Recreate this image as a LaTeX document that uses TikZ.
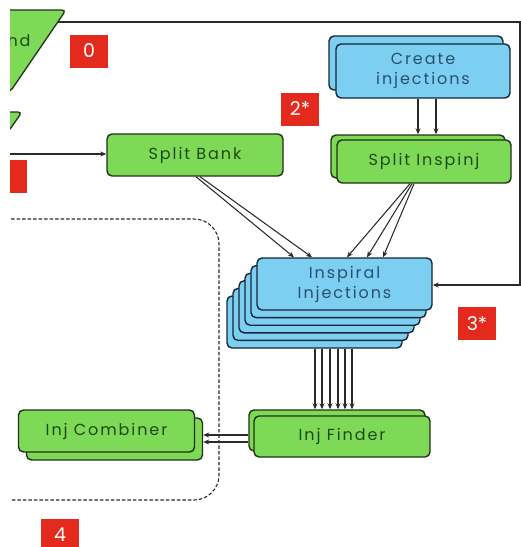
\documentclass[tikz,border=0pt]{standalone}
\usepackage{fontspec}
\setmainfont{Poppins}
\newfontfamily\boxfont[LetterSpace=12]{Poppins}
\usetikzlibrary{calc,arrows.meta}
\definecolor{gfill}{HTML}{7ED957}
\definecolor{gdraw}{HTML}{1E3316}
\definecolor{gtext}{HTML}{1F4A17}
\definecolor{bfill}{HTML}{7CCFF0}
\definecolor{bdraw}{HTML}{16263A}
\definecolor{btext}{HTML}{2A4F70}
\definecolor{tagred}{HTML}{E42A1D}
\definecolor{linec}{HTML}{2A2A2A}
\begin{document}
\begin{tikzpicture}[x=1pt,y=-1pt,
  box/.style={draw, rounded corners=5pt, line width=1.4pt, inner sep=0pt, align=center,
    font=\boxfont\fontsize{16}{20}\selectfont},
  gbox/.style={box, fill=gfill, draw=gdraw, text=gtext},
  bbox/.style={box, fill=bfill, draw=bdraw, text=btext},
  arr/.style={-{Stealth[length=6pt,width=5pt]}, line width=1.05pt, draw=linec},
  loopline/.style={line width=1.4pt, draw=linec!90},
  tag/.style={fill=tagred, text=white, inner sep=0pt, minimum width=38pt, minimum height=33pt,
    font=\fontsize{19}{19}\selectfont},
  groupbox/.style={dashed, dash pattern=on 3.5pt off 2pt, line width=1.1pt, draw=linec, rounded corners=25pt}]
\fill[white] (0,0) rectangle (521,547);
\useasboundingbox (0,0) rectangle (521,547);
\begin{scope}
\clip (10,0) rectangle (521,547);
% input parallelograms (cut off at the left)
\draw[fill=gfill, draw=gdraw, line width=1.3pt, rounded corners=4pt]
  (-60,10) -- (66,10) -- (10,92) -- (-116,92) -- cycle;
\node[text=gtext, font=\boxfont\fontsize{16}{16}\selectfont, anchor=west] (inp) at (4,41) {nd};
\coordinate (inpout) at (58,22);
\draw[fill=gfill, draw=gdraw, line width=1.3pt, rounded corners=4pt]
  (-60,112) -- (22,112) -- (8,132) -- (-74,132) -- cycle;
\coordinate (inp2out) at (0,154);
% tags
\node[tag] (t0) at (89,51) {0};
\node[tag] (t1) at (8,176.5) {1};
\node[tag] (t2) at (300,109) {2*};
\node[tag] (t3) at (477,323.5) {3*};
\node[tag, minimum height=28pt, text height=17pt, text depth=0pt] (t4) at (60,533) {4};
% dashed group
\draw[groupbox] (-40,219) rectangle (219,500);
% boxes
\node[gbox, minimum width=176pt, minimum height=42pt] (sb) at (195,155) {Split Bank};
\node[bbox, minimum width=174pt, minimum height=54pt] (cib) at (416,63) {};
\node[bbox, minimum width=174pt, minimum height=54pt] (ci) at (423,71) {Create\\injections};
\node[gbox, minimum width=174pt, minimum height=43pt] (sib) at (418,156.5) {};
\node[gbox, minimum width=174pt, minimum height=43pt] (si) at (424,161.5) {Split Inspinj};
\foreach \k in {5,4,3,2,1}
  \node[bbox, minimum width=175pt, minimum height=52pt] (ii\k) at ({344.5-6*\k},{284+7.6*\k}) {};
\node[bbox, minimum width=175pt, minimum height=52pt] (ii) at (344.5,284) {Inspiral\\Injections};
\node[gbox, minimum width=176pt, minimum height=41pt] (ifb) at (337,430.5) {};
\node[gbox, minimum width=176pt, minimum height=41pt] (if) at (342,436.5) {Inj Finder};
\node[gbox, minimum width=176pt, minimum height=42pt] (icb) at (114.5,439) {};
\node[gbox, minimum width=176pt, minimum height=42pt] (ic) at (106.5,431) {Inj Combiner};
% connectors
\draw[arr] (inp2out) -- (inp2out -| sb.west);
\draw[loopline, arr] (inpout) -- (520,22) -- (520,285) -- (ii.east |- 0,285);
\draw[arr] ([xshift=1pt]sb.south) -- ([xshift=-50.5pt]ii.north);
\draw[arr] ([xshift=5pt]sb.south) -- ([xshift=-32.5pt]ii.north);
\draw[arr] ([xshift=-14pt]si.south) -- ([xshift=2.5pt]ii.north);
\draw[arr] ([xshift=-12pt]si.south) -- ([xshift=22.5pt]ii.north);
\draw[arr] ([xshift=-10pt]si.south) -- ([xshift=38.5pt]ii.north);
\draw[arr] ([xshift=-5pt]ci.south) -- ([xshift=-5pt]ci.south |- sib.north);
\draw[arr] ([xshift=13pt]ci.south) -- ([xshift=13pt]ci.south |- sib.north);
\foreach \d in {0.5,7.5,15.5,23.5,30.5,37.5}
  \draw[arr] ([xshift=\d pt]ii5.south) -- ([xshift=\d pt]ii5.south |- ifb.north);
\path ([yshift=1.5pt]if.west) coordinate (f1) ([yshift=-5.5pt]if.west) coordinate (f2);
\draw[arr] (f1 -| ifb.west) -- (f1 -| icb.east);
\draw[arr] (f2 -| ifb.west) -- (f2 -| icb.east);
\end{scope}
\end{tikzpicture}
\end{document}
